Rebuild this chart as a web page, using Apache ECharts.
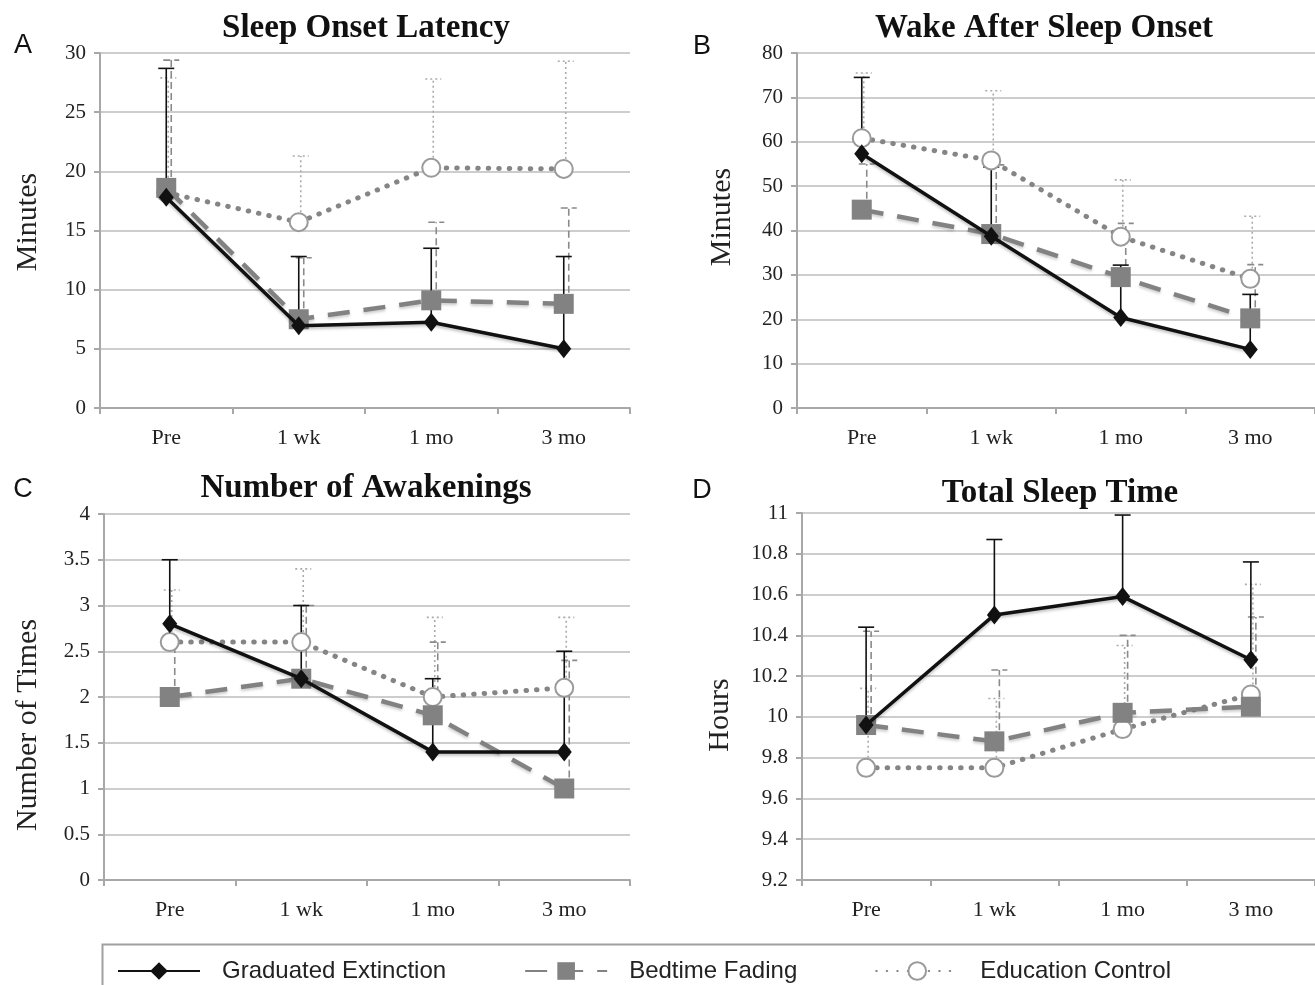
<!DOCTYPE html>
<html><head><meta charset="utf-8">
<script src="https://cdn.jsdelivr.net/npm/echarts@6/dist/echarts.min.js"></script>
<style>html,body{margin:0;padding:0;background:#fff}#c{width:1315px;height:985px}</style>
</head><body><div id="c"></div>
<script>
const categories = ['Pre', '1 wk', '1 mo', '3 mo'];
const seriesNames = ['Graduated Extinction', 'Bedtime Fading', 'Education Control'];

// A: Sleep Onset Latency (minutes)
const solGE = [17.8, 6.95, 7.25, 5.0];
const solGEup = [28.7, 12.8, 13.5, 12.8];
const solBF = [18.6, 7.5, 9.1, 8.8];
const solBFup = [29.4, 12.7, 15.7, 16.9];
const solEC = [18.2, 15.7, 20.3, 20.2];
const solECup = [27.9, 21.3, 27.8, 29.3];

// B: Wake After Sleep Onset (minutes)
const wasoGE = [57.3, 38.7, 20.4, 13.2];
const wasoGEup = [74.5, 54.3, 32.2, 25.6];
const wasoBF = [44.7, 39.2, 29.5, 20.2];
const wasoBFup = [55.0, 54.8, 41.6, 32.3];
const wasoEC = [60.8, 55.8, 38.6, 29.1];
const wasoECup = [75.5, 71.5, 51.4, 43.2];

// C: Number of Awakenings (times)
const nwGE = [2.8, 2.2, 1.4, 1.4];
const nwGEup = [3.5, 3.0, 2.2, 2.5];
const nwBF = [2.0, 2.2, 1.8, 1.0];
const nwBFup = [2.6, 3.0, 2.6, 2.4];
const nwEC = [2.6, 2.6, 2.0, 2.1];
const nwECup = [3.17, 3.4, 2.87, 2.87];

// D: Total Sleep Time (hours)
const tstGE = [9.96, 10.5, 10.59, 10.28];
const tstGEup = [10.44, 10.87, 10.99, 10.76];
const tstBF = [9.96, 9.88, 10.02, 10.05];
const tstBFup = [10.42, 10.23, 10.40, 10.49];
const tstEC = [9.75, 9.75, 9.94, 10.11];
const tstECup = [10.14, 10.09, 10.35, 10.65];

const panels = [
  {title: 'Sleep Onset Latency', letter: 'A', yName: 'Minutes', min: 0, max: 30, interval: 5,
   means: [solGE, solBF, solEC], ups: [solGEup, solBFup, solECup]},
  {title: 'Wake After Sleep Onset', letter: 'B', yName: 'Minutes', min: 0, max: 80, interval: 10,
   means: [wasoGE, wasoBF, wasoEC], ups: [wasoGEup, wasoBFup, wasoECup]},
  {title: 'Number of Awakenings', letter: 'C', yName: 'Number of Times', min: 0, max: 4, interval: 0.5,
   means: [nwGE, nwBF, nwEC], ups: [nwGEup, nwBFup, nwECup]},
  {title: 'Total Sleep Time', letter: 'D', yName: 'Hours', min: 9.2, max: 11, interval: 0.2,
   means: [tstGE, tstBF, tstEC], ups: [tstGEup, tstBFup, tstECup]}
];

// layout
const grids = [
  {left: 100, top: 53, width: 530, height: 355},
  {left: 797, top: 53, width: 528, height: 355},
  {left: 104, top: 514, width: 526, height: 366},
  {left: 802, top: 513, width: 524, height: 367}
];
const titlePos = [[366, 28], [1044, 28], [366, 488], [1060, 493]];
const letterPos = [[23, 46], [702, 47], [23, 490], [702, 491]];
const yNamePos = [[28, 222], [722, 217], [28, 725], [720, 715]];

const serif = 'Liberation Serif, Times New Roman, serif';
const lineStyles = [
  {symbol: 'diamond', symbolSize: [15, 19], itemStyle: {color: '#111'},
   lineStyle: {color: '#111', width: 3.5, shadowBlur: 3, shadowColor: 'rgba(0,0,0,0.25)', shadowOffsetY: 2}},
  {symbol: 'rect', symbolSize: 20, itemStyle: {color: '#828282'},
   lineStyle: {color: '#828282', width: 4.5, type: [22, 14], shadowBlur: 3, shadowColor: 'rgba(0,0,0,0.2)', shadowOffsetY: 2}},
  {symbol: 'circle', symbolSize: 18, itemStyle: {color: '#fff', borderColor: '#9a9a9a', borderWidth: 2},
   lineStyle: {color: '#858585', width: 5, type: [0.5, 10], cap: 'round'}}
];
const errStyles = [
  {stroke: '#111', lineWidth: 1.6},
  {stroke: '#8a8a8a', lineWidth: 1.6, lineDash: [7, 4]},
  {stroke: '#aaa', lineWidth: 1.6, lineDash: [2, 3]}
];
const errOffset = [0, 5, 2];

const option = {
  animation: false,
  backgroundColor: '#fff',
  grid: grids,
  xAxis: grids.map((g, i) => ({
    type: 'category', gridIndex: i, data: categories, boundaryGap: true,
    axisLine: {lineStyle: {color: '#a8a8a8', width: 2}},
    axisTick: {show: true, length: 6, lineStyle: {color: '#a8a8a8', width: 2}},
    axisLabel: {fontFamily: serif, fontSize: 22, color: '#222', margin: 19},
    splitLine: {show: false}
  })),
  yAxis: panels.map((p, i) => ({
    type: 'value', gridIndex: i, min: p.min, max: p.max, interval: p.interval,
    axisLine: {show: true, lineStyle: {color: '#a8a8a8', width: 2}},
    axisTick: {show: true, length: 6, lineStyle: {color: '#a8a8a8', width: 2}},
    axisLabel: {fontFamily: serif, fontSize: 21, color: '#222', margin: 14},
    splitLine: {lineStyle: {color: '#bdbdbd', width: 1.5}}
  })),
  legend: {
    data: seriesNames, left: 112, top: 954, itemWidth: 82, itemHeight: 22, itemGap: 78,
    textStyle: {fontFamily: 'Liberation Sans, Arial, sans-serif', fontSize: 24, color: '#222', padding: [0, 0, 0, 17]},
    selectedMode: false
  },
  graphic: [
    {type: 'rect', left: 100, top: 942, shape: {width: 1240, height: 60},
     style: {fill: 'none', stroke: '#a0a0a0', lineWidth: 2}, silent: true}
  ].concat(panels.map((p, i) => ({
    type: 'text', x: titlePos[i][0], y: titlePos[i][1],
    style: {text: p.title, fontFamily: serif, fontWeight: 'bold', fontSize: 33, fill: '#111',
            textAlign: 'center', textVerticalAlign: 'middle'}
  }))).concat(panels.map((p, i) => ({
    type: 'text', x: letterPos[i][0], y: letterPos[i][1],
    style: {text: p.letter, fontFamily: 'Liberation Sans, Arial, sans-serif', fontSize: 27, fill: '#111',
            textAlign: 'center', textVerticalAlign: 'middle'}
  }))).concat(panels.map((p, i) => ({
    type: 'text', x: yNamePos[i][0], y: yNamePos[i][1], rotation: Math.PI / 2,
    style: {text: p.yName, fontFamily: serif, fontSize: 30, fill: '#222',
            textAlign: 'center', textVerticalAlign: 'middle'}
  }))),
  series: []
};

panels.forEach((p, gi) => {
  // error bars (upper only)
  [2, 1, 0].forEach(k => {
    const st = errStyles[k];
    const off = errOffset[k];
    option.series.push({
      type: 'custom', name: 'err-' + k + '-' + gi, xAxisIndex: gi, yAxisIndex: gi, z: 1, silent: true,
      data: p.means[k].map((m, i) => [i, m, p.ups[k][i]]),
      encode: {x: 0, y: [1, 2]},
      renderItem: (params, api) => {
        const a = api.coord([api.value(0), api.value(1)]);
        const b = api.coord([api.value(0), api.value(2)]);
        const x = a[0] + off;
        return {type: 'group', children: [
          {type: 'line', shape: {x1: x, y1: a[1], x2: x, y2: b[1]}, style: st},
          {type: 'line', shape: {x1: x - 8, y1: b[1], x2: x + 8, y2: b[1]}, style: st}
        ]};
      }
    });
  });
  [2, 1, 0].forEach(k => {
    option.series.push(Object.assign({
      type: 'line', name: seriesNames[k], xAxisIndex: gi, yAxisIndex: gi, z: 3 + (2 - k),
      data: p.means[k], showSymbol: true, showAllSymbol: true
    }, JSON.parse(JSON.stringify(lineStyles[k]))));
  });
});

const chart = echarts.init(document.getElementById('c'), null, {renderer: 'canvas'});
chart.setOption(option);
</script>
</body></html>
